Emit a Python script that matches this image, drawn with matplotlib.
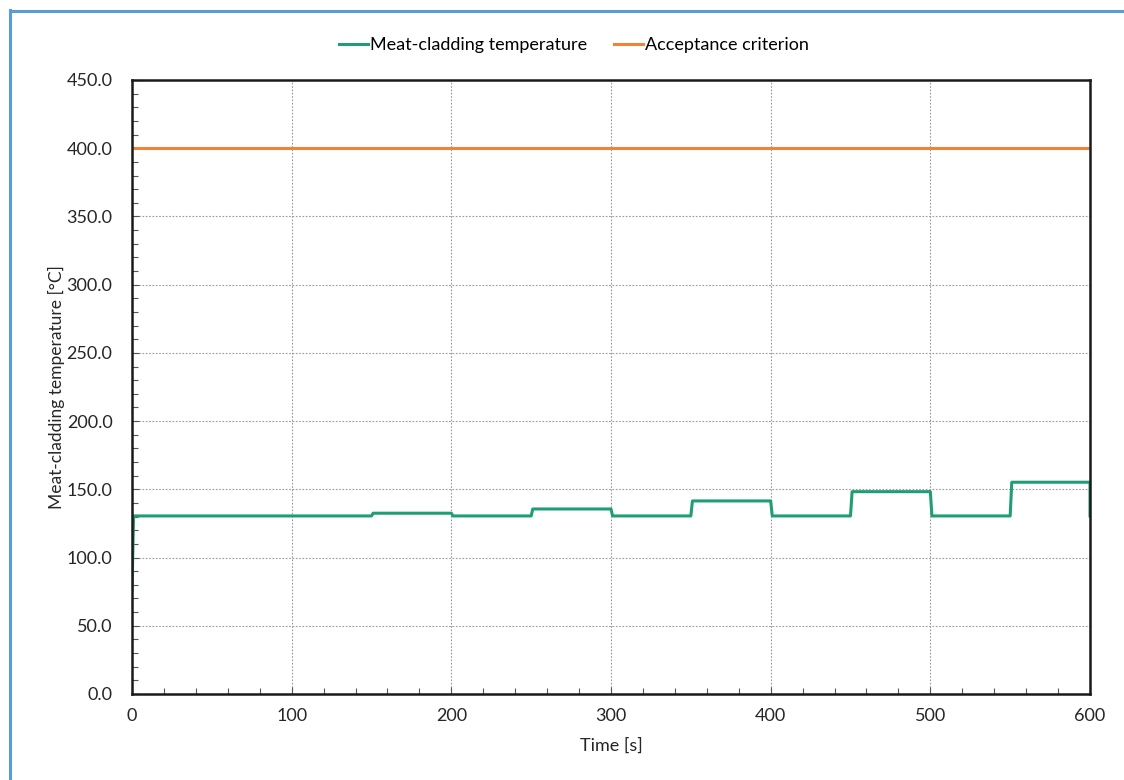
import matplotlib
matplotlib.use("Agg")
import matplotlib.pyplot as plt
from matplotlib.lines import Line2D
from matplotlib.ticker import MultipleLocator, FormatStrFormatter

plt.rcParams['font.family'] = ['Lato', 'DejaVu Sans']

# Data
time_s = [0, 1, 150, 151, 200, 201, 250, 251, 300, 301, 350, 351, 400, 401,
          450, 451, 500, 501, 550, 551, 600, 600]
meat_temp = [76, 130.5, 130.5, 132.5, 132.5, 130.5, 130.5, 135.6, 135.6, 130.5,
             130.5, 141.5, 141.5, 130.5, 130.5, 148.3, 148.3, 130.5, 130.5, 155.2,
             155.2, 130.5]
criterion_time = [0, 600]
criterion_value = [400, 400]

fig = plt.figure(figsize=(11.24, 7.8), dpi=100)
ax = fig.add_axes([132/1124, 1-694/780, (1090-132)/1124, (694-80)/780])

ax.plot(time_s, meat_temp, color='#1f9e76', lw=2.2, label='Meat-cladding temperature')
ax.plot(criterion_time, criterion_value, color='#f0823a', lw=2.2, label='Acceptance criterion')

ax.set_xlim(0, 600)
ax.set_ylim(0, 450)
ax.xaxis.set_major_locator(MultipleLocator(100))
ax.xaxis.set_minor_locator(MultipleLocator(20))
ax.yaxis.set_major_locator(MultipleLocator(50))
ax.yaxis.set_minor_locator(MultipleLocator(10))
ax.yaxis.set_major_formatter(FormatStrFormatter('%.1f'))
ax.tick_params(which='both', direction='in', color='#555555', labelsize=13, labelcolor='#262626')
ax.tick_params(which='major', length=5, width=0.8)
ax.tick_params(axis='y', which='major', pad=14)
ax.tick_params(axis='x', which='major', pad=10)
ax.tick_params(which='minor', length=4, width=0.8)
ax.grid(True, which='major', linestyle=(0, (1.5, 1.5)), color='#9a9a9a', lw=0.8)
for s in ax.spines.values():
    s.set_color('#1a1a1a')
    s.set_linewidth(1.8)

ax.set_xlabel('Time [s]', fontsize=13, color='#262626', labelpad=10)
ax.set_ylabel('Meat-cladding temperature [°C]', fontsize=12.5, color='#262626', labelpad=1)

leg = ax.legend(loc='center left', bbox_to_anchor=(323/1124, 1-45/780),
                bbox_transform=fig.transFigure, ncol=2, frameon=False,
                fontsize=13, handlelength=1.6, handletextpad=0.1, columnspacing=1.5)

# blue frame (left and top edges visible)
fig.add_artist(Line2D([9.5/1124, 9.5/1124], [0, 1-10/780], color='#5b9bd5', lw=2.2,
                      transform=fig.transFigure))
fig.add_artist(Line2D([9.5/1124, 1], [1-10.5/780, 1-10.5/780], color='#5b9bd5', lw=2.2,
                      transform=fig.transFigure))

fig.savefig('out.png', dpi=100)
